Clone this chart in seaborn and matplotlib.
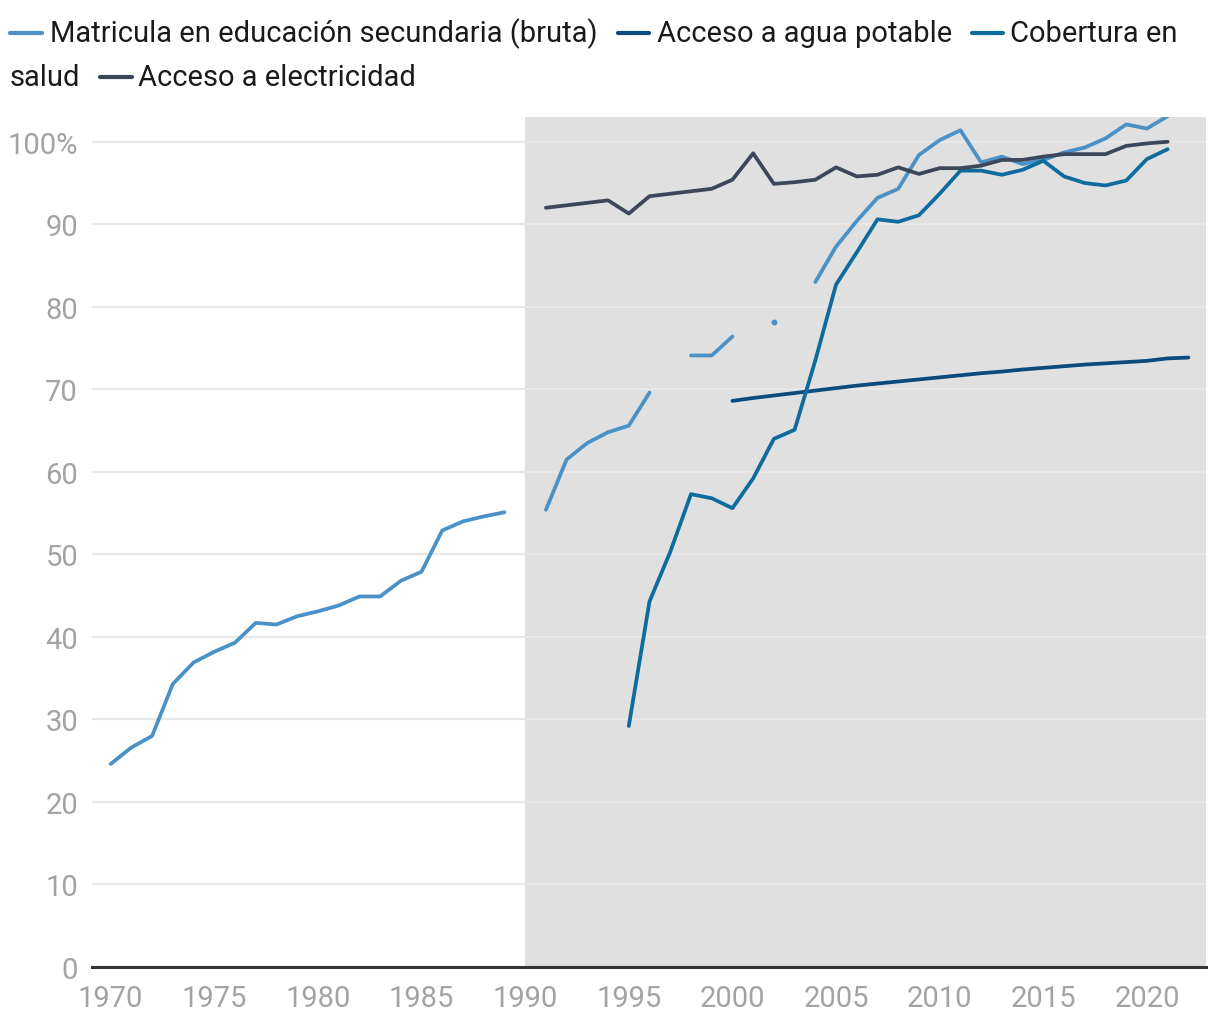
import numpy as np
import pandas as pd
import matplotlib
matplotlib.use("Agg")
import matplotlib.pyplot as plt
from matplotlib.lines import Line2D
import seaborn as sns

# series names (legend order)
EDU = 'Matricula en educación secundaria (bruta)'
WATER = 'Acceso a agua potable'
HEALTH = 'Cobertura en salud'
ELEC = 'Acceso a electricidad'

edu_years = list(range(1970, 2022))
edu_values = [24.6, 26.6, 28.0, 34.3, 36.9, 38.2, 39.3, 41.7, 41.5, 42.5,
              43.1, 43.8, 44.9, 44.9, 46.8, 47.9, 52.9, 54.0, 54.6, 55.1,
              np.nan, 55.4, 61.5, 63.5, 64.8, 65.6, 69.6, np.nan, 74.1, 74.1,
              76.4, np.nan, 78.2, np.nan, 83.0, 87.3, 90.4, 93.2, 94.3, 98.4,
              100.2, 101.4, 97.5, 98.2, 97.3, 97.8, 98.7, 99.3, 100.4, 102.1,
              101.6, 103.1]

water_years = list(range(2000, 2023))
water_values = [68.6, 68.95, 69.25, 69.55, 69.85, 70.15, 70.45, 70.7, 70.95, 71.2,
                71.45, 71.7, 71.95, 72.15, 72.4, 72.6, 72.8, 73.0, 73.15, 73.3,
                73.45, 73.75, 73.85]

health_years = list(range(1995, 2022))
health_values = [29.2, 44.3, 50.3, 57.3, 56.8, 55.6, 59.2, 64.0, 65.1, 73.5,
                 82.7, 86.6, 90.6, 90.3, 91.1, 93.7, 96.5, 96.5, 96.0, 96.6,
                 97.7, 95.8, 95.0, 94.7, 95.3, 97.9, 99.1]

elec_years = list(range(1991, 2022))
elec_values = [92.0, 92.3, 92.6, 92.9, 91.3, 93.4, 93.7, 94.0, 94.3, 95.4,
               98.6, 94.9, 95.1, 95.4, 96.9, 95.8, 96.0, 96.9, 96.1, 96.8,
               96.8, 97.1, 97.8, 97.8, 98.2, 98.5, 98.5, 98.5, 99.5, 99.8,
               100.0]

names = [EDU, WATER, HEALTH, ELEC]
palette = {EDU: '#4a91c7', WATER: '#0b4a7d', HEALTH: '#0e6b9e', ELEC: '#3c4759'}

x_ticks = list(range(1970, 2021, 5))
y_ticks = list(range(0, 101, 10))
y_labels = [str(v) if v < 100 else '100%' for v in y_ticks]

# long-form table, split into unbroken segments at the gaps
frames = []
for name, yrs, vals in [(EDU, edu_years, edu_values), (WATER, water_years, water_values),
                        (HEALTH, health_years, health_values), (ELEC, elec_years, elec_values)]:
    d = pd.DataFrame({'year': yrs, 'value': vals})
    d['series'] = name
    d['segment'] = d['value'].isna().cumsum()
    frames.append(d.dropna())
df = pd.concat(frames, ignore_index=True)
df['unit'] = df['series'] + '_' + df['segment'].astype(str)

sns.set_theme(style='white')
plt.rcParams['font.family'] = ['Roboto', 'DejaVu Sans']

W, H = 1220, 1020
fig = plt.figure(figsize=(W / 100, H / 100), dpi=100)
ax = fig.add_axes([92 / W, 1 - 968 / H, (1206 - 92) / W, (968 - 118) / H])

ax.axvspan(1990, 2022.85, color='#e0e0e0', lw=0, zorder=0)
ax.grid(axis='y', color='#e8e8e8', lw=1.6, zorder=0.5)
ax.set_axisbelow(True)

sns.lineplot(data=df, x='year', y='value', hue='series', units='unit', estimator=None,
             hue_order=names, palette=palette, linewidth=2.7, legend=False, ax=ax,
             solid_capstyle='round', zorder=3)

# single isolated points (no neighbours) drawn as dots
counts = df.groupby('unit')['year'].transform('size')
for _, row in df[counts == 1].iterrows():
    ax.plot(row['year'], row['value'], 'o', ms=3.2, color=palette[row['series']], zorder=3)

ax.set_xlim(1969.1, 2022.85)
ax.set_ylim(0, 103)
ax.set_xticks(x_ticks)
ax.set_yticks(y_ticks)
ax.set_yticklabels(y_labels)
ax.set_xlabel('')
ax.set_ylabel('')
ax.tick_params(axis='both', length=0, labelsize=21, labelcolor='#a3a3a3')
ax.tick_params(axis='y', pad=10)
ax.tick_params(axis='x', pad=12)
for s in ['top', 'right', 'left']:
    ax.spines[s].set_visible(False)
ax.spines['bottom'].set_color('#333333')
ax.spines['bottom'].set_linewidth(2.2)
ax.spines['bottom'].set_zorder(4)

# legend laid out like the original (wrapped over two rows)
legend_rows = [
    (EDU, 10, 42, 50, 33.5, 'Matricula en educación secundaria (bruta)'),
    (WATER, 618, 649, 657, 33.5, 'Acceso a agua potable'),
    (HEALTH, 972, 1003, 1010, 33.5, 'Cobertura en'),
    (None, 0, 0, 10, 77.5, 'salud'),
    (ELEC, 100, 132, 138, 77.5, 'Acceso a electricidad'),
]
for key, x0, x1, tx, yc, label in legend_rows:
    if key is not None:
        fig.add_artist(Line2D([x0 / W, x1 / W], [1 - yc / H, 1 - yc / H],
                              transform=fig.transFigure, color=palette[key], lw=3,
                              solid_capstyle='round'))
    fig.text(tx / W, 1 - (yc + 8.5) / H, label, fontsize=21, color='#1a1a1a',
             ha='left', va='baseline')

fig.savefig('out.png', dpi=100)
